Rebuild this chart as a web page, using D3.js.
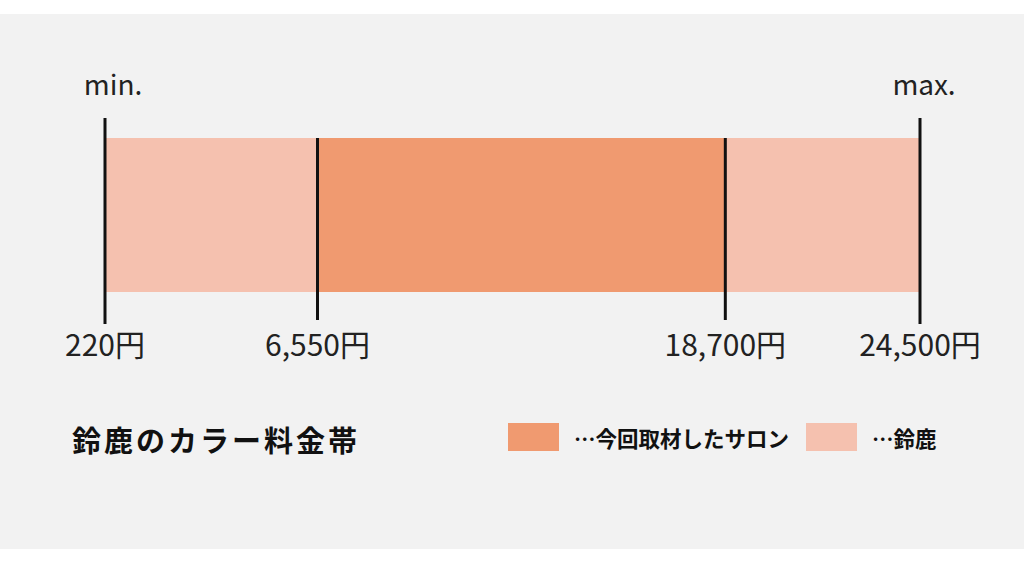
<!DOCTYPE html>
<html><head><meta charset="utf-8">
<script src="https://cdn.jsdelivr.net/npm/d3@7"></script>
<style>html,body{margin:0;padding:0;background:#fff;}svg{display:block;}</style>
</head><body>
<svg id="c" width="1024" height="563"></svg>
<script>
const ticks = [220, 6550, 18700, 24500];
const tickLabels = ["220円", "6,550円", "18,700円", "24,500円"];
const ranges = [
  {name: "…鈴鹿", from: 220, to: 24500},
  {name: "…今回取材したサロン", from: 6550, to: 18700}
];
const legendItems = ["…今回取材したサロン", "…鈴鹿"];
const colors = {"…鈴鹿": "#f5c1af", "…今回取材したサロン": "#f09a70"};
const title = "鈴鹿のカラー料金帯";
const endLabels = ["min.", "max."];

const svg = d3.select("#c");
const font = "'Noto Sans CJK JP', 'Noto Sans', sans-serif";
svg.append("rect").attr("x",0).attr("y",14).attr("width",1024).attr("height",535).attr("fill","#f2f2f2");

const x = d3.scaleLinear().domain([220, 24500]).range([105, 920]);
const barTop = 138, barBot = 292;

svg.selectAll("rect.range").data(ranges).join("rect")
  .attr("x", d => x(d.from)).attr("width", d => x(d.to) - x(d.from))
  .attr("y", barTop).attr("height", barBot - barTop)
  .attr("fill", d => colors[d.name]);

svg.selectAll("line.tk").data(ticks).join("line")
  .attr("x1", d => x(d)).attr("x2", d => x(d))
  .attr("y1", (d,i) => (i===0 || i===ticks.length-1) ? 118 : 138)
  .attr("y2", (d,i) => (i===0 || i===ticks.length-1) ? 324 : 320)
  .attr("stroke", "#111").attr("stroke-width", 3);

svg.selectAll("text.tl").data(ticks).join("text")
  .attr("x", d => x(d)).attr("y", 356)
  .attr("text-anchor", "middle")
  .attr("font-family", font).attr("font-size", 30).attr("font-weight", 400).attr("fill", "#222")
  .text((d,i) => tickLabels[i]);

const endDx = [8, 4];
svg.selectAll("text.end").data([220, 24500]).join("text")
  .attr("x", (d,i) => x(d) + endDx[i]).attr("y", 95)
  .attr("text-anchor", "middle")
  .attr("font-family", font).attr("font-size", 28).attr("font-weight", 400).attr("fill", "#222")
  .text((d,i) => endLabels[i]);

svg.append("text").attr("x", 72).attr("y", 452)
  .attr("font-family", font).attr("font-size", 29).attr("font-weight", "bold")
  .attr("letter-spacing", 3).attr("fill", "#111").text(title);

const lx = [508, 806];
legendItems.forEach((name, i) => {
  svg.append("rect").attr("x", lx[i]).attr("y", 423).attr("width", 51).attr("height", 28).attr("fill", colors[name]);
  svg.append("text").attr("x", lx[i] + 66).attr("y", 447)
    .attr("font-family", font).attr("font-size", 21.5).attr("font-weight", "bold")
    .attr("fill", "#111").text(name);
});
</script>
</body></html>
